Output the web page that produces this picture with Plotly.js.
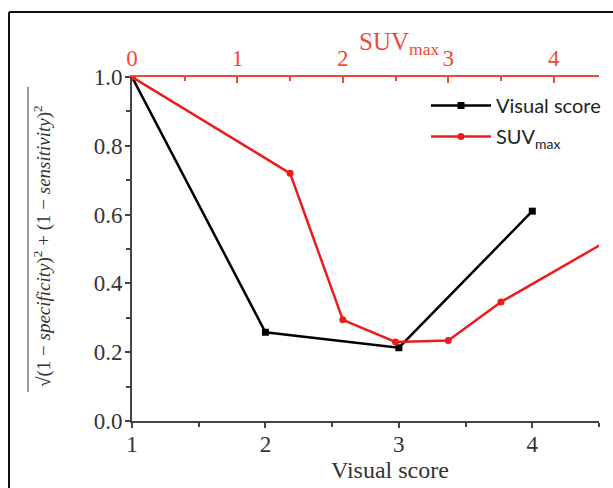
<!DOCTYPE html>
<html>
<head>
<meta charset="utf-8">
<script src="https://cdn.plot.ly/plotly-3.0.1.min.js"></script>
<style>html,body{margin:0;padding:0;background:#fff;}#chart{width:613px;height:488px;}</style>
</head>
<body>
<div id="chart"></div>
<script>
// Data
const visualScoreX = [1, 2, 3, 4];
const visualScoreY = [1.0, 0.258, 0.213, 0.61];
const suvX = [0, 1.5, 2.0, 2.5, 3.0, 3.5, 4.5];
const suvY = [1.0, 0.72, 0.294, 0.23, 0.234, 0.346, 0.522];
const bottomTicks = [1, 2, 3, 4];
const topTicks = [0, 1, 2, 3, 4];
const yTicks = [0, 0.2, 0.4, 0.6, 0.8, 1.0];

const RED = '#ec1c1c';
const AXRED = '#ef4a36';
const GREY = '#444444';
const SERIF = '"Liberation Serif", "DejaVu Serif", serif';

const traces = [
  {
    x: visualScoreX, y: visualScoreY, name: 'Visual score', legendgroup: 'a',
    type: 'scatter', mode: 'lines+markers', xaxis: 'x', yaxis: 'y',
    line: {color: '#000000', width: 2.5},
    marker: {symbol: 'square', size: 7, color: '#000000'}
  },
  {
    x: suvX, y: suvY, name: 'SUV<sub>max</sub>', legendgroup: 'b',
    type: 'scatter', mode: 'lines+markers', xaxis: 'x2', yaxis: 'y',
    line: {color: RED, width: 2.5},
    marker: {symbol: 'circle', size: 7, color: RED}
  }
];

const layout = {
  width: 613, height: 488,
  margin: {l: 132, r: 14, t: 77, b: 67, autoexpand: false},
  paper_bgcolor: '#ffffff', plot_bgcolor: '#ffffff',
  showlegend: true,
  legend: {
    x: (426 - 132) / 467, y: (421 - 86) / 344, xanchor: 'left', yanchor: 'top',
    bgcolor: 'rgba(0,0,0,0)', borderwidth: 0,
    font: {family: 'Lato, "Open Sans", sans-serif', size: 20, color: '#222'},
    tracegroupgap: 2, itemwidth: 60
  },
  xaxis: {
    range: [1, 4.5], tickvals: bottomTicks, ticktext: bottomTicks.map(String),
    showgrid: false, zeroline: false, showline: true, linecolor: GREY, linewidth: 2,
    ticks: 'outside', ticklen: 5, tickwidth: 2, tickcolor: GREY, ticklabelstandoff: -4,
    minor: {dtick: 0.5, ticks: 'outside', ticklen: 4, tickwidth: 2, tickcolor: GREY, showgrid: false},
    tickfont: {family: SERIF, size: 23, color: '#333'},
    anchor: 'y', side: 'bottom', automargin: false
  },
  xaxis2: {
    range: [0, 4.43], tickvals: topTicks, ticktext: topTicks.map(String),
    overlaying: 'x', side: 'top', anchor: 'y', automargin: false,
    showgrid: false, zeroline: false, showline: true, linecolor: AXRED, linewidth: 2,
    ticks: 'inside', ticklen: 6, tickwidth: 2, tickcolor: AXRED,
    minor: {dtick: 0.5, ticks: 'inside', ticklen: 4, tickwidth: 2, tickcolor: AXRED, showgrid: false},
    tickfont: {family: SERIF, size: 23, color: AXRED}
  },
  yaxis: {
    range: [0, 1], tickvals: yTicks, ticktext: yTicks.map(v => v.toFixed(1)),
    showgrid: false, zeroline: false, showline: true, linecolor: GREY, linewidth: 2,
    ticks: 'outside', ticklen: 5, tickwidth: 2, tickcolor: GREY, ticklabelstandoff: -2,
    minor: {dtick: 0.1, ticks: 'outside', ticklen: 4, tickwidth: 2, tickcolor: GREY, showgrid: false},
    tickfont: {family: SERIF, size: 23, color: '#333'}, automargin: false
  },
  annotations: [
    {
      text: 'Visual score', xref: 'paper', yref: 'paper',
      x: (390 - 132) / 467, y: -(470 - 421) / 344, xanchor: 'center', yanchor: 'middle',
      showarrow: false, font: {family: SERIF, size: 24, color: '#333'}
    },
    {
      text: 'SUV<sub>max</sub>', xref: 'paper', yref: 'paper',
      x: (357 - 132) / 467, y: 1 + (77 - 43) / 344, xanchor: 'left', yanchor: 'middle',
      showarrow: false, font: {family: SERIF, size: 25, color: AXRED}
    },
    {
      text: '√(1 − <i>specificity</i>)<sup>2</sup> + (1 − <i>sensitivity</i>)<sup>2</sup>',
      xref: 'paper', yref: 'paper', textangle: -90,
      x: -(132 - 42) / 467, y: (421 - 246) / 344, xanchor: 'center', yanchor: 'middle',
      showarrow: false, font: {family: SERIF, size: 19, color: '#333'}
    }
  ],
  shapes: [
    // outer frame (left and top edges)
    {type: 'line', xref: 'paper', yref: 'paper', x0: -(132 - 9) / 467, x1: -(132 - 9) / 467,
     y0: 1 + (77 - 12) / 344, y1: -(500 - 421) / 344, line: {color: '#111', width: 2}},
    {type: 'line', xref: 'paper', yref: 'paper', x0: -(132 - 9) / 467, x1: (620 - 132) / 467,
     y0: 1 + (77 - 12) / 344, y1: 1 + (77 - 12) / 344, line: {color: '#111', width: 2}},
    // radical vinculum
    {type: 'line', xref: 'paper', yref: 'paper', x0: -(132 - 28) / 467, x1: -(132 - 28) / 467,
     y0: (421 - 392) / 344, y1: (421 - 87) / 344, line: {color: '#333', width: 1}}
  ]
};

Plotly.newPlot('chart', traces, layout, {staticPlot: true, displayModeBar: false});
</script>
</body>
</html>
